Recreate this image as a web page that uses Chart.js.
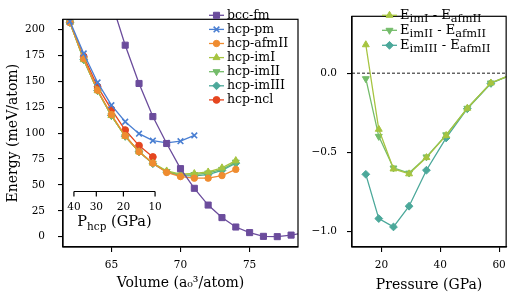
<!DOCTYPE html>
<html>
<head>
<meta charset="utf-8">
<script src="https://cdn.jsdelivr.net/npm/chart.js@4.4.0/dist/chart.umd.min.js"></script>
<style>
html, body { margin: 0; padding: 0; background: #fff; }
#wrap { position: relative; width: 513px; height: 300px; }
#izq { position: absolute; left: 0; top: 0; width: 305px; height: 300px; }
#der { position: absolute; left: 305px; top: 0; width: 208px; height: 300px; }
</style>
</head>
<body>
<div id="wrap">
  <canvas id="izq" width="305" height="300"></canvas>
  <canvas id="der" width="208" height="300"></canvas>
</div>
<script>
// ---------- datos panel izquierdo (energia vs volumen) ----------
const volHcp = [62, 63, 64, 65, 66, 67, 68, 69, 70, 71, 72, 73, 74];
const volBcc = [65, 66, 67, 68, 69, 70, 71, 72, 73, 74, 75, 76, 77, 78, 79];
const eBccFm = [227, 185, 148, 116, 90, 65.7, 46.7, 30.5, 18.4, 9.3, 3.9, 0.3, 0, 1.5, 4];
const eHcpPm = [208, 177, 149, 127, 111, 99.5, 92.8, 90.7, 92.2, 97.8];
const eHcpAfmII = [207, 172, 141.5, 118, 97.5, 82, 71, 62, 58, 56.5, 56.5, 59, 65];
const eHcpImI = [207, 171, 141, 117, 97, 82, 71, 63.5, 60.5, 61, 62.5, 66.5, 73.5];
const eHcpImII = [207, 171, 141, 117, 97, 82, 71, 63, 59.5, 60, 61.5, 65, 72];
const eHcpImIII = [207, 171, 141, 117, 97, 82, 70.5, 62.5, 59, 58.7, 60, 64, 71];
const eHcpNcl = [207, 174, 145, 123, 103, 88, 77];
const ticksVol = [65, 70, 75];
const ticksEnergia = [0, 25, 50, 75, 100, 125, 150, 175, 200];
// eje interno P_hcp: presiones y el volumen donde cae cada una
const ticksPhcp = [40, 30, 20, 10];
const volPhcp = [62.29, 63.91, 65.87, 68.16];

// ---------- datos panel derecho (diferencias vs presion) ----------
const presion = [14.7, 19.1, 24.1, 29.4, 35.3, 42.0, 49.2, 57.2, 65.5];
const dImI = [0.18, -0.355, -0.606, -0.637, -0.534, -0.394, -0.222, -0.062, 0.0];
const dImII = [-0.035, -0.40, -0.60, -0.632, -0.53, -0.39, -0.222, -0.062, 0.0];
const dImIII = [-0.64, -0.92, -0.973, -0.842, -0.614, -0.41, -0.225, -0.065, 0.0];
const ticksPresion = [20, 40, 60];
const ticksDif = [-1.0, -0.5, 0.0];

const FUENTE = '"DejaVu Serif", serif';
Chart.defaults.font.family = FUENTE;
Chart.defaults.color = '#000';
Chart.defaults.animation = false;

const colores = {
    bcc: '#6b4c9c',
    pm: '#4a7fd2',
    afm: '#ef8c30',
    imI: '#a6c440',
    imII: '#74bc6a',
    imIII: '#4ba89a',
    ncl: '#e5461f'
};

function xy(xs, ys) {
    return ys.map((y, i) => ({ x: xs[i], y: y }));
}

function serie(label, xs, ys, color, estilo, radio, rot) {
    return {
        label: label,
        data: xy(xs, ys),
        borderColor: color,
        backgroundColor: color,
        borderWidth: 1.3,
        pointStyle: estilo,
        pointRadius: radio,
        pointRotation: rot || 0,
        pointBorderWidth: estilo === 'crossRot' ? 1.6 : 1,
        clip: 0
    };
}

// dibuja texto con subindices: partes = [[texto, esSub], ...]
function textoRico(ctx, partes, x, y, size, align, ratio) {
    const r = ratio || 0.72;
    const medir = p => {
        ctx.font = (p[1] ? size * r : size) + 'px ' + FUENTE;
        return ctx.measureText(p[0]).width;
    };
    const total = partes.reduce((s, p) => s + medir(p), 0);
    let cx = align === 'center' ? x - total / 2 : x;
    ctx.textAlign = 'left';
    ctx.textBaseline = 'middle';
    partes.forEach(p => {
        const w = medir(p);
        ctx.fillText(p[0], cx, p[1] ? y + size * 0.3 : y);
        cx += w;
    });
}

const marco = {
    id: 'marco',
    afterDatasetsDraw(chart) {
        const { ctx, chartArea: a } = chart;
        ctx.save();
        ctx.strokeStyle = '#000';
        ctx.lineWidth = 1.2;
        ctx.strokeRect(a.left, a.top, a.right - a.left, a.bottom - a.top);
        ctx.restore();
    }
};

const leyenda = {
    id: 'leyenda',
    afterDraw(chart, args, o) {
        if (!o || !o.textos) return;
        const ctx = chart.ctx;
        ctx.save();
        o.textos.forEach((partes, i) => {
            const ds = chart.data.datasets[i];
            const y = o.y + i * o.salto;
            ctx.strokeStyle = ds.borderColor;
            ctx.fillStyle = ds.backgroundColor;
            ctx.lineWidth = ds.borderWidth;
            ctx.beginPath();
            ctx.moveTo(o.x, y);
            ctx.lineTo(o.x + o.largo, y);
            ctx.stroke();
            ctx.lineWidth = ds.pointBorderWidth;
            Chart.helpers.drawPoint(ctx, {
                pointStyle: ds.pointStyle,
                radius: ds.pointRadius,
                rotation: ds.pointRotation,
                borderWidth: ds.pointBorderWidth
            }, o.x + o.largo / 2, y);
            ctx.fillStyle = '#000';
            textoRico(ctx, partes, o.x + o.largo + 3, y, o.size, 'left', o.sub);
        });
        ctx.restore();
    }
};

const ejePhcp = {
    id: 'ejePhcp',
    afterDatasetsDraw(chart, args, o) {
        if (!o || o.nivel === undefined) return;
        const { ctx, scales: { x, y } } = chart;
        const yy = Math.round(y.getPixelForValue(o.nivel)) + 0.5;
        const xs = volPhcp.map(v => x.getPixelForValue(v));
        const x0 = Math.min(...xs), x1 = Math.max(...xs);
        ctx.save();
        ctx.strokeStyle = '#000';
        ctx.fillStyle = '#000';
        ctx.lineWidth = 1.2;
        ctx.beginPath();
        ctx.moveTo(x0, yy);
        ctx.lineTo(x1, yy);
        xs.forEach(px => { ctx.moveTo(px, yy); ctx.lineTo(px, yy + 5); });
        ctx.stroke();
        ctx.font = '10.5px ' + FUENTE;
        ctx.textAlign = 'center';
        ctx.textBaseline = 'middle';
        ticksPhcp.forEach((p, i) => ctx.fillText(String(p), xs[i], yy + 15.5));
        textoRico(ctx, [['P', false], ['hcp', true], [' (GPa)', false]], (x0 + x1) / 2, yy + 31, 14.5, 'center');
        ctx.restore();
    }
};

function ejeComun(ticks, tickLen, pad) {
    return {
        type: 'linear',
        afterBuildTicks: s => { s.ticks = ticks.map(v => ({ value: v })); },
        grid: { drawOnChartArea: false, drawTicks: true, tickLength: tickLen, color: '#000', lineWidth: 1.1 },
        border: { display: true, color: '#000', width: 1.2 },
        ticks: { font: { size: 10.5 }, padding: pad, maxRotation: 0, color: '#000' }
    };
}

// ---------- grafico izquierdo ----------
const xIzq = ejeComun(ticksVol, 5, 7);
xIzq.min = 61.5;
xIzq.max = 78.5;
xIzq.afterFit = s => { s.height = 53; };
xIzq.title = { display: true, text: 'Volume (a₀³/atom)', font: { size: 14 }, padding: { top: 0, bottom: 8 } };

const yIzq = ejeComun(ticksEnergia, 5, 13);
yIzq.min = -10;
yIzq.max = 210;
yIzq.afterFit = s => { s.width = 63; };
yIzq.title = { display: true, text: 'Energy (meV/atom)', font: { size: 14 }, padding: { top: 5, bottom: 0 } };

new Chart(document.getElementById('izq'), {
    type: 'line',
    data: {
        datasets: [
            serie('bcc-fm', volBcc, eBccFm, colores.bcc, 'rect', 4.3),
            serie('hcp-pm', volHcp, eHcpPm, colores.pm, 'crossRot', 4),
            serie('hcp-afmII', volHcp, eHcpAfmII, colores.afm, 'circle', 3.2),
            serie('hcp-imI', volHcp, eHcpImI, colores.imI, 'triangle', 4),
            serie('hcp-imII', volHcp, eHcpImII, colores.imII, 'triangle', 4, 180),
            serie('hcp-imIII', volHcp, eHcpImIII, colores.imIII, 'rectRot', 3.9),
            serie('hcp-ncl', volHcp, eHcpNcl, colores.ncl, 'circle', 3.4)
        ]
    },
    options: {
        responsive: false,
        layout: { padding: { top: 4, right: 7, left: 0, bottom: 0 } },
        plugins: {
            legend: { display: false },
            tooltip: { enabled: false },
            leyenda: {
                x: 209, y: 15.3, salto: 14.1, largo: 15, size: 12.5,
                textos: [
                    [['bcc-fm', false]], [['hcp-pm', false]], [['hcp-afmII', false]],
                    [['hcp-imI', false]], [['hcp-imII', false]], [['hcp-imIII', false]],
                    [['hcp-ncl', false]]
                ]
            },
            ejePhcp: { nivel: 44.5 }
        },
        scales: { x: xIzq, y: yIzq }
    },
    plugins: [marco, ejePhcp, leyenda]
});

// ---------- grafico derecho ----------
const xDer = ejeComun(ticksPresion, 5, 7);
xDer.min = 10;
xDer.max = 62.4;
xDer.afterFit = s => { s.height = 53; };
xDer.title = { display: true, text: 'Pressure (GPa)', font: { size: 14 }, padding: { top: 0, bottom: 6 } };

const yDer = ejeComun(ticksDif, 5, 10);
yDer.min = -1.1;
yDer.max = 0.36;
yDer.afterFit = s => { s.width = 47; };
yDer.ticks.callback = v => (v < 0 ? '\u2212' : '') + Math.abs(v).toFixed(1);

const ceroLinea = {
    label: 'cero',
    data: [{ x: 10, y: 0 }, { x: 62.4, y: 0 }],
    borderColor: '#000',
    borderWidth: 0.9,
    borderDash: [3, 2],
    pointRadius: 0,
    clip: 0
};

new Chart(document.getElementById('der'), {
    type: 'line',
    data: {
        datasets: [
            serie('imI', presion, dImI, colores.imI, 'triangle', 4),
            serie('imII', presion, dImII, colores.imII, 'triangle', 4, 180),
            serie('imIII', presion, dImIII, colores.imIII, 'rectRot', 3.9),
            ceroLinea
        ]
    },
    options: {
        responsive: false,
        layout: { padding: { top: 4, right: 4, left: 0, bottom: 0 } },
        plugins: {
            legend: { display: false },
            tooltip: { enabled: false },
            leyenda: {
                x: 77, y: 15.3, salto: 15, largo: 15, size: 13, sub: 0.88,
                textos: [
                    [['E', false], ['imI', true], [' - E', false], ['afmII', true]],
                    [['E', false], ['imII', true], [' - E', false], ['afmII', true]],
                    [['E', false], ['imIII', true], [' - E', false], ['afmII', true]]
                ]
            }
        },
        scales: { x: xDer, y: yDer }
    },
    plugins: [marco, leyenda]
});
</script>
</body>
</html>
